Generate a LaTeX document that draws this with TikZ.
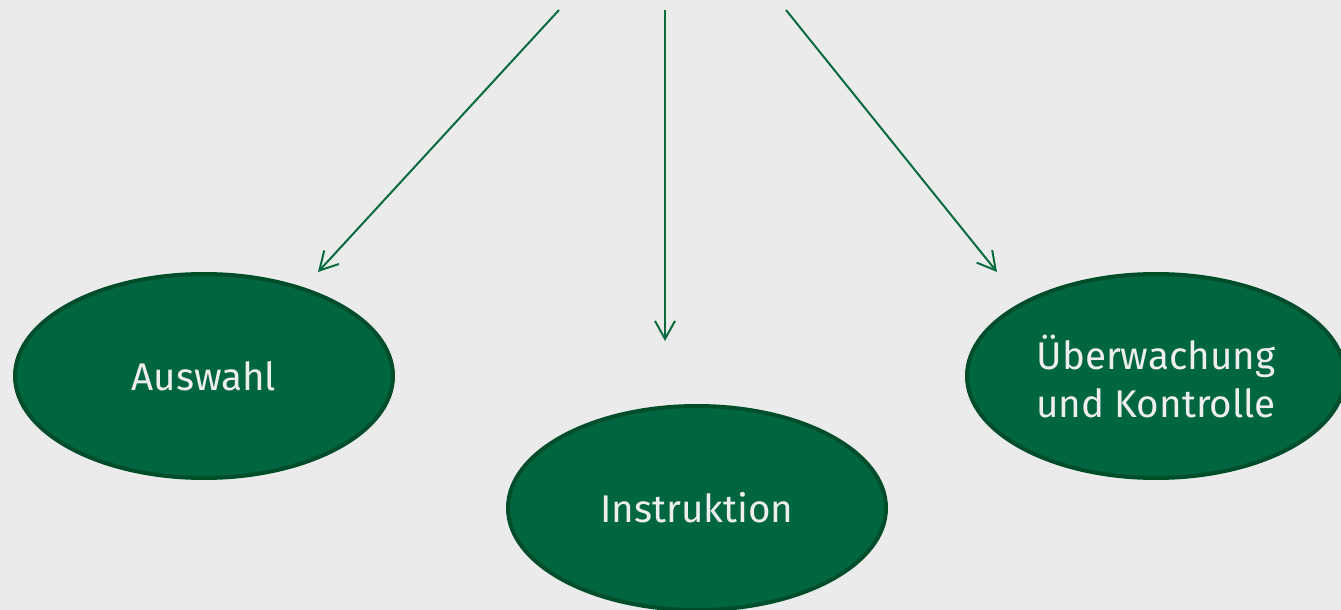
\documentclass[tikz,border=0pt]{standalone}
\usepackage{fontspec}
\setmainfont{Fira Sans}
\usetikzlibrary{shapes.geometric,arrows.meta}
\definecolor{bggrey}{HTML}{EBEBEB}
\definecolor{fillgreen}{HTML}{006640}
\definecolor{rimgreen}{HTML}{004D2A}
\definecolor{linegreen}{HTML}{0A6B3E}
\definecolor{textgrey}{HTML}{EEEEEE}

\begin{document}
\begin{tikzpicture}[x=0.5pt,y=-0.5pt,
	stage/.style={ellipse,draw=rimgreen,line width=2pt,fill=fillgreen,text=textgrey,minimum width=189pt,minimum height=102pt,inner sep=0pt,align=center,font=\fontsize{19.3}{24}\selectfont},
	pointer/.style={draw=linegreen,line width=1pt,-{Straight Barb[length=9pt,width=10pt]}}]
\fill [bggrey] (0,0) rectangle (1341,610);
\useasboundingbox (0,0) rectangle (1341,610);
\node [stage] (sel) at (204,376) {Auswahl};
\node [stage] (ins) at (697,508) {Instruktion};
\node [stage] (mon) at (1156,376) {Überwachung\\und Kontrolle};
\coordinate (sel-top) at (559,10);
\coordinate (ins-top) at (665,10);
\coordinate (mon-top) at (786,10);
\coordinate (sel-tip) at (318,272);
\coordinate (ins-tip) at (665,341);
\coordinate (mon-tip) at (997,272);
\draw [pointer] (sel-top) -- (sel-tip);
\draw [pointer] (ins-top) -- (ins-tip);
\draw [pointer] (mon-top) -- (mon-tip);
\end{tikzpicture}
\end{document}
